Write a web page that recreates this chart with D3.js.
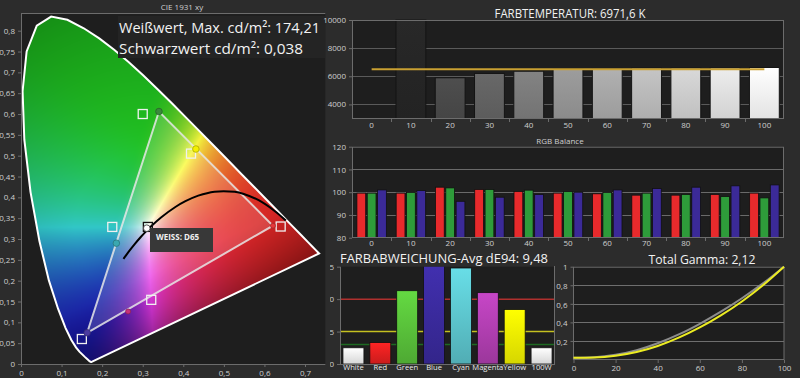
<!DOCTYPE html>
<html>
<head>
<meta charset="utf-8">
<script src="https://cdn.jsdelivr.net/npm/d3@7"></script>
<style>
  html, body { margin: 0; padding: 0; background: #2c2c2c; }
  svg { display: block; font-family: "Open Sans", "Noto Sans", sans-serif; }
</style>
</head>
<body>
<div id="chart"></div>
<script>
// ---------- data ----------
// CIE 1931 spectral locus (x, y)
var locusX = [0.1741, 0.1738, 0.1733, 0.1726, 0.1714, 0.1689, 0.1644, 0.1566, 0.1440, 0.1355, 0.1241, 0.1096, 0.0913, 0.0687, 0.0454, 0.0235, 0.0082, 0.0039, 0.0139, 0.0389, 0.0743, 0.1142, 0.1547, 0.1929, 0.2296, 0.2658, 0.3016, 0.3373, 0.3731, 0.4087, 0.4441, 0.4788, 0.5125, 0.5448, 0.5752, 0.6029, 0.6270, 0.6658, 0.6915, 0.7079, 0.7190, 0.7260, 0.7334, 0.7347];
var locusY = [0.0050, 0.0049, 0.0048, 0.0048, 0.0051, 0.0069, 0.0109, 0.0177, 0.0297, 0.0399, 0.0578, 0.0868, 0.1327, 0.2007, 0.2950, 0.4127, 0.5384, 0.6548, 0.7502, 0.8120, 0.8338, 0.8262, 0.8059, 0.7816, 0.7543, 0.7243, 0.6923, 0.6589, 0.6245, 0.5896, 0.5547, 0.5202, 0.4866, 0.4544, 0.4242, 0.3965, 0.3725, 0.3340, 0.3083, 0.2920, 0.2809, 0.2740, 0.2666, 0.2653];

// Planckian locus (black body curve)
var planckX = [0.2525, 0.2565, 0.2637, 0.2807, 0.2952, 0.3064, 0.3221, 0.3451, 0.3805, 0.4053, 0.4369, 0.4770, 0.5267, 0.5491, 0.5857, 0.6251, 0.6528];
var planckY = [0.2524, 0.2577, 0.2674, 0.2884, 0.3048, 0.3166, 0.3318, 0.3516, 0.3768, 0.3907, 0.4041, 0.4137, 0.4133, 0.4082, 0.3931, 0.3674, 0.3444];

// gamut points: Red, Green, Blue, Cyan, Magenta, Yellow, White
var gamutNames = ["R", "G", "B", "C", "M", "Y", "W"];
var targetX = [0.640, 0.300, 0.150, 0.225, 0.321, 0.419, 0.3127];
var targetY = [0.330, 0.600, 0.060, 0.329, 0.154, 0.505, 0.329];
var measX = [0.621, 0.340, 0.163, 0.235, 0.264, 0.431, 0.310];
var measY = [0.332, 0.606, 0.075, 0.290, 0.126, 0.516, 0.326];

var cieTicksX = [0, 0.1, 0.2, 0.3, 0.4, 0.5, 0.6, 0.7];
var cieTicksY = [0, 0.05, 0.1, 0.15, 0.2, 0.25, 0.3, 0.35, 0.4, 0.45, 0.5, 0.55, 0.6, 0.65, 0.7, 0.75, 0.8];

// colour temperature
var tempCats = ["0", "10", "20", "30", "40", "50", "60", "70", "80", "90", "100"];
var tempValues = [0, 10000, 5895, 6200, 6360, 6550, 6560, 6580, 6580, 6590, 6625];
var tempTarget = 6500;
var tempTicks = [4000, 6000, 8000, 10000];

// RGB balance
var rgbCats = ["0", "10", "20", "30", "40", "50", "60", "70", "80", "90", "100"];
var rgbRed = [99.6, 99.6, 102.2, 101.2, 100.3, 99.6, 99.3, 98.7, 98.7, 99.0, 99.6];
var rgbGreen = [99.6, 99.9, 101.9, 101.2, 100.9, 100.3, 99.9, 99.6, 99.0, 98.1, 97.5];
var rgbBlue = [101.0, 100.7, 96.0, 97.8, 99.0, 100.0, 101.0, 101.6, 102.2, 102.8, 103.2];
var rgbTicks = [80, 90, 100, 110, 120];

// dE94 colour deviation
var deCats = ["White", "Red", "Green", "Blue", "Cyan", "Magenta", "Yellow", "100W"];
var deValues = [2.5, 3.3, 11.3, 16.0, 14.8, 11.0, 8.4, 2.5];
var deLimits = [10, 5, 3];
var deTicks = [0, 5, 10, 15];

// gamma
var gammaX = [0, 10, 20, 30, 40, 50, 60, 70, 80, 90, 100];
var gammaTarget = [0.018, 0.024, 0.05, 0.1, 0.175, 0.27, 0.385, 0.515, 0.66, 0.82, 1.0];
var gammaMeasured = [0.018, 0.021, 0.04, 0.08, 0.145, 0.235, 0.345, 0.475, 0.625, 0.8, 1.0];
var gammaTicksY = [0.2, 0.4, 0.6, 0.8, 1];
var gammaTicksX = [0, 20, 40, 60, 80, 100];

// ---------- drawing ----------
var W = 800, H = 378;
var bg = "#2c2c2c", plotBg = "#1e1e1e", lineCol = "#6c6c6c", tickText = "#cfcfcf";

var svg = d3.select("#chart").append("svg")
    .attr("width", W).attr("height", H);

svg.append("rect").attr("width", W).attr("height", H).attr("fill", bg);

var defs = svg.append("defs");

function comma(d) {
    return d === 0 ? "0" : String(+d.toFixed(2)).replace(".", ",");
}

function styleAxis(g) {
    g.selectAll(".domain").attr("stroke", lineCol);
    g.selectAll(".tick line").attr("stroke", lineCol);
    g.selectAll(".tick text").attr("fill", tickText).attr("font-size", "8px")
        .attr("font-family", "'Open Sans', sans-serif");
}

function vGrad(id, top, bottom) {
    var gr = defs.append("linearGradient").attr("id", id)
        .attr("x1", 0).attr("y1", 0).attr("x2", 0).attr("y2", 1);
    gr.append("stop").attr("offset", "0%").attr("stop-color", top);
    gr.append("stop").attr("offset", "100%").attr("stop-color", bottom);
    return "url(#" + id + ")";
}

// ===== CIE 1931 xy =====
var cx = d3.scaleLinear().domain([0, 0.75]).range([21, 325.3]);
var cy = d3.scaleLinear().domain([0, 0.8]).range([364, 30.7]);
var cieTop = 13;

var cie = svg.append("g");
cie.append("rect").attr("x", cx(0)).attr("y", cieTop)
    .attr("width", cx(0.75) - cx(0)).attr("height", cy(0) - cieTop)
    .attr("fill", plotBg);

var locus = locusX.map(function(x, i) { return [x, locusY[i]]; });

// colour fill of the horseshoe
(function() {
    var x0 = Math.round(cx(0)), x1 = Math.round(cx(0.75));
    var y0 = cieTop, y1 = Math.round(cy(0));
    var w = x1 - x0, h = y1 - y0;
    var canvas = document.createElement("canvas");
    canvas.width = w; canvas.height = h;
    var ctx = canvas.getContext("2d");
    var img = ctx.createImageData(w, h);
    function enc(v) {
        v = Math.max(0, Math.min(1, v));
        return 255 * (v <= 0.0031308 ? 12.92 * v : 1.055 * Math.pow(v, 1 / 2.4) - 0.055);
    }
    // purple line end points
    var p0 = locus[0], p1 = locus[locus.length - 1];
    var pl = Math.hypot(p1[0] - p0[0], p1[1] - p0[1]);
    for (var j = 0; j < h; j++) {
        for (var i = 0; i < w; i++) {
            var x = cx.invert(x0 + i + 0.5), y = cy.invert(y0 + j + 0.5);
            var k = (j * w + i) * 4;
            if (y <= 0.001 || !d3.polygonContains(locus, [x, y])) { img.data[k + 3] = 0; continue; }
            var X = x / y, Y = 1, Z = (1 - x - y) / y;
            var r = 3.2406 * X - 1.5372 * Y - 0.4986 * Z;
            var g = -0.9689 * X + 1.8758 * Y + 0.0415 * Z;
            var b = 0.0557 * X - 0.2040 * Y + 1.0570 * Z;
            r = Math.max(0, r); g = Math.max(0, g); b = Math.max(0, b);
            var m = Math.max(r, g, b);
            r = Math.pow(r / m, 2.2); g = Math.pow(g / m, 2.2); b = Math.pow(b / m, 2.2);
            var lum = 0.2126 * r + 0.7152 * g + 0.0722 * b;
            var dw = Math.hypot(x - 0.3127, y - 0.329);
            var f1 = Math.max(0.35, 1 - 1.3 * Math.max(0, dw - 0.18));
            var f2 = Math.pow(lum, 0.12);
            var pd = Math.abs((p1[1] - p0[1]) * x - (p1[0] - p0[0]) * y + p1[0] * p0[1] - p1[1] * p0[0]) / pl;
            var f3 = 0.45 + 0.55 * Math.min(1, pd / 0.13);
            var f4 = 0.6 + 0.4 * r;
            var f = f1 * f2 * f3 * f4;
            r *= f; g *= f; b *= f;
            var avg = (r + g + b) / 3;
            r = r * 0.92 + avg * 0.08; g = g * 0.92 + avg * 0.08; b = b * 0.92 + avg * 0.08;
            img.data[k] = enc(r); img.data[k + 1] = enc(g); img.data[k + 2] = enc(b);
            img.data[k + 3] = 255;
        }
    }
    ctx.putImageData(img, 0, 0);
    cie.append("image").attr("x", x0).attr("y", y0).attr("width", w).attr("height", h)
        .attr("href", canvas.toDataURL());
})();

var gx = function(d) { return cx(d[0]); }, gy = function(d) { return cy(d[1]); };
cie.append("path").datum(locus)
    .attr("d", d3.line().x(gx).y(gy).curve(d3.curveLinearClosed))
    .attr("fill", "none").attr("stroke", "#ffffff").attr("stroke-width", 2);

var mpt = function(n) { var i = gamutNames.indexOf(n); return [measX[i], measY[i]]; };
var tpt = function(n) { var i = gamutNames.indexOf(n); return [targetX[i], targetY[i]]; };

// measured gamut triangle
var tri = [mpt("B"), mpt("G"), mpt("R")];
cie.append("path").datum(tri)
    .attr("d", d3.line().x(gx).y(gy).curve(d3.curveLinearClosed))
    .attr("fill", "#ffffff").attr("fill-opacity", 0.15)
    .attr("stroke", "#e6e6e6").attr("stroke-opacity", 0.85).attr("stroke-width", 2);

// black body curve
cie.append("path").datum(planckX.map(function(x, i) { return [x, planckY[i]]; }))
    .attr("d", d3.line().x(gx).y(gy).curve(d3.curveCatmullRom))
    .attr("fill", "none").attr("stroke", "#000000").attr("stroke-width", 2);

// target squares
cie.selectAll("rect.target").data(gamutNames).enter().append("rect")
    .attr("class", "target")
    .attr("x", function(n) { return cx(tpt(n)[0]) - 4.5; })
    .attr("y", function(n) { return cy(tpt(n)[1]) - 4.5; })
    .attr("width", 9).attr("height", 9)
    .attr("fill", "none")
    .attr("stroke", function(n) { return n === "W" ? "#111" : "#f0f0f0"; })
    .attr("stroke-width", 1.3);

// measured dots
var dotCol = { R: "#e8383a", G: "#3a8a3c", B: "#4a3aa0", C: "#3aa8b0", M: "#c8307a", Y: "#f4f000", W: "#ffffff" };
cie.selectAll("circle.meas").data(gamutNames).enter().append("circle")
    .attr("class", "meas")
    .attr("cx", function(n) { return cx(mpt(n)[0]); })
    .attr("cy", function(n) { return cy(mpt(n)[1]); })
    .attr("r", function(n) { return n === "R" || n === "M" ? 2.5 : 3.3; })
    .attr("fill", function(n) { return dotCol[n]; })
    .attr("stroke", function(n) { return n === "W" ? "#333" : d3.color(dotCol[n]).darker(1); })
    .attr("stroke-width", 0.8);

// axes
var cax = cie.append("g").attr("transform", "translate(0," + cy(0) + ")")
    .call(d3.axisBottom(cx).tickValues(cieTicksX).tickFormat(comma).tickSize(3).tickSizeOuter(0));
styleAxis(cax);
cax.selectAll(".domain").attr("d", "M" + cx(0) + ",0.5H" + cx(0.75));
var cay = cie.append("g").attr("transform", "translate(" + cx(0) + ",0)")
    .call(d3.axisLeft(cy).tickValues(cieTicksY).tickFormat(comma).tickSize(3).tickSizeOuter(0));
styleAxis(cay);
cay.selectAll(".domain").attr("d", "M0.5," + cieTop + "V" + cy(0));
cie.append("line").attr("x1", cx(0)).attr("x2", cx(0.75)).attr("y1", cieTop + 0.5).attr("y2", cieTop + 0.5)
    .attr("stroke", lineCol);

cie.append("text").attr("x", 182).attr("y", 10).attr("text-anchor", "middle")
    .attr("fill", tickText).attr("font-size", "8px").text("CIE 1931 xy");

// info box
cie.append("rect").attr("x", 118).attr("y", 16).attr("width", 207).attr("height", 42).attr("fill", "#242424");
cie.append("text").attr("x", 119).attr("y", 33).attr("fill", "#f2f2f2").attr("font-size", "14.5px")
    .attr("textLength", 201).attr("lengthAdjust", "spacingAndGlyphs")
    .text("Weißwert, Max. cd/m²: 174,21");
cie.append("text").attr("x", 119).attr("y", 54).attr("fill", "#f2f2f2").attr("font-size", "14.5px")
    .attr("textLength", 184).attr("lengthAdjust", "spacingAndGlyphs")
    .text("Schwarzwert cd/m²: 0,038");

// white point label
cie.append("rect").attr("x", 150).attr("y", 228).attr("width", 63).attr("height", 24).attr("fill", "#383838");
cie.append("text").attr("x", 156).attr("y", 240).attr("fill", "#f0f0f0").attr("font-size", "8px")
    .attr("font-weight", "bold").text("WEISS: D65");

// ===== panel helpers =====
function plotFrame(g, x0, x1, y0, y1) {
    g.append("rect").attr("x", x0).attr("y", y0).attr("width", x1 - x0).attr("height", y1 - y0)
        .attr("fill", plotBg);
}
function frameLines(g, x0, x1, y0, y1) {
    g.append("rect").attr("x", x0 + 0.5).attr("y", y0 + 0.5).attr("width", x1 - x0 - 1).attr("height", y1 - y0 - 1)
        .attr("fill", "none").attr("stroke", lineCol);
}
function titleWithGap(g, cxp, y, gx0, gx1, txt, size, len) {
    g.append("rect").attr("x", gx0).attr("y", y - 13).attr("width", gx1 - gx0).attr("height", 15).attr("fill", bg);
    g.append("text").attr("x", cxp).attr("y", y).attr("text-anchor", "middle")
        .attr("fill", "#f2f2f2").attr("font-size", size)
        .attr("textLength", len).attr("lengthAdjust", "spacingAndGlyphs").text(txt);
}

// ===== Colour temperature =====
var tp = svg.append("g");
var tx = d3.scaleBand().domain(tempCats).range([352, 784]).paddingInner(0.24).paddingOuter(0.12);
var ty = d3.scaleLinear().domain([3000, 10000]).range([118.5, 20]);
plotFrame(tp, 352, 784, 20, 118.5);
tp.selectAll("line.grid").data(tempTicks).enter().append("line")
    .attr("x1", 352).attr("x2", 784)
    .attr("y1", function(d) { return Math.round(ty(d)) + 0.5; })
    .attr("y2", function(d) { return Math.round(ty(d)) + 0.5; })
    .attr("stroke", "#5a5a5a");
var greyScale = d3.scaleLinear().domain([10, 20, 50, 100]).range(["#262626", "#4a4a4a", "#959595", "#f4f4f4"]);
tp.selectAll("rect.bar").data(tempCats.filter(function(c, i) { return tempValues[i] > 0; }))
    .enter().append("rect")
    .attr("x", function(c) { return tx(c); })
    .attr("y", function(c) { return ty(tempValues[tempCats.indexOf(c)]); })
    .attr("width", tx.bandwidth())
    .attr("height", function(c) { return ty(3000) - ty(tempValues[tempCats.indexOf(c)]); })
    .attr("fill", function(c, i) {
        var col = d3.color(greyScale(+c));
        return vGrad("tg" + i, col.brighter(0.15), col.darker(0.2));
    })
    .attr("stroke", "#141414").attr("stroke-width", 1);
tp.append("line")
    .attr("x1", tx("0") + tx.bandwidth() / 2).attr("x2", tx("100") + tx.bandwidth() / 2)
    .attr("y1", ty(tempTarget)).attr("y2", ty(tempTarget))
    .attr("stroke", "#c9a032").attr("stroke-width", 2.2);
frameLines(tp, 352, 784, 20, 119);
var tay = tp.append("g").attr("transform", "translate(352,0)")
    .call(d3.axisLeft(ty).tickValues(tempTicks).tickFormat(d3.format("d")).tickSize(3).tickSizeOuter(0));
styleAxis(tay); tay.select(".domain").remove();
var tax = tp.append("g").attr("transform", "translate(0,119)")
    .call(d3.axisBottom(tx).tickSize(0).tickPadding(3));
styleAxis(tax); tax.select(".domain").remove();
tp.selectAll("line.sep").data(tempCats.slice(1)).enter().append("line")
    .attr("x1", function(c) { return Math.round(tx(c) - tx.step() * 0.12) + 0.5; })
    .attr("x2", function(c) { return Math.round(tx(c) - tx.step() * 0.12) + 0.5; })
    .attr("y1", 118).attr("y2", 122).attr("stroke", lineCol);
titleWithGap(tp, 570, 18, 493, 680, "FARBTEMPERATUR: 6971,6 K", "12.5px", 151);

// ===== RGB balance =====
var rp = svg.append("g");
var rx = d3.scaleBand().domain(rgbCats).range([352, 784]).paddingInner(0.25).paddingOuter(0.125);
var rsub = d3.scaleBand().domain(["r", "g", "b"]).range([0, rx.bandwidth()]).paddingInner(0.15);
var ry = d3.scaleLinear().domain([80, 120]).range([237.7, 146.7]);
plotFrame(rp, 352, 784, 146.7, 237.7);
rp.selectAll("line.grid").data(rgbTicks.slice(1, 4)).enter().append("line")
    .attr("x1", 352).attr("x2", 784)
    .attr("y1", function(d) { return Math.round(ry(d)) + 0.5; })
    .attr("y2", function(d) { return Math.round(ry(d)) + 0.5; })
    .attr("stroke", "#6a6a6a");
var rgbSeries = [["r", rgbRed, "#e82a2c"], ["g", rgbGreen, "#2e9c3a"], ["b", rgbBlue, "#3b2a98"]];
rgbSeries.forEach(function(s) {
    rp.selectAll("rect.b" + s[0]).data(rgbCats).enter().append("rect")
        .attr("x", function(c) { return rx(c) + rsub(s[0]); })
        .attr("y", function(c, i) { return ry(s[1][i]); })
        .attr("width", rsub.bandwidth())
        .attr("height", function(c, i) { return ry(80) - ry(s[1][i]); })
        .attr("fill", s[2]).attr("stroke", "#111").attr("stroke-width", 0.8);
});
frameLines(rp, 352, 784, 146.7, 238);
var ray = rp.append("g").attr("transform", "translate(352,0)")
    .call(d3.axisLeft(ry).tickValues(rgbTicks).tickSize(3).tickSizeOuter(0));
styleAxis(ray); ray.select(".domain").remove();
var rax = rp.append("g").attr("transform", "translate(0,238)")
    .call(d3.axisBottom(rx).tickSize(0).tickPadding(2));
styleAxis(rax); rax.select(".domain").remove();
rp.selectAll("line.sep").data(rgbCats.slice(1)).enter().append("line")
    .attr("x1", function(c) { return Math.round(rx(c) - rx.step() * 0.125) + 0.5; })
    .attr("x2", function(c) { return Math.round(rx(c) - rx.step() * 0.125) + 0.5; })
    .attr("y1", 237).attr("y2", 241).attr("stroke", lineCol);
rp.append("text").attr("x", 560).attr("y", 143.5).attr("text-anchor", "middle")
    .attr("fill", tickText).attr("font-size", "8px").text("RGB Balance");

// ===== dE94 =====
defs.append("clipPath").attr("id", "declip").append("rect")
    .attr("x", 330).attr("y", 240).attr("width", 230).attr("height", 138);
defs.append("clipPath").attr("id", "deplot").append("rect")
    .attr("x", 340).attr("y", 266.7).attr("width", 215).attr("height", 98);
var dp = svg.append("g").attr("clip-path", "url(#declip)");
var dx = d3.scaleBand().domain(deCats).range([340, 555]).paddingInner(0.22).paddingOuter(0.11);
var dy = d3.scaleLinear().domain([0, 15]).range([364, 266.7]);
plotFrame(dp, 340, 555, 266.7, 364);
var limitCols = ["#b0302e", "#c4c020", "#1e6a22"];
dp.selectAll("line.lim").data(deLimits).enter().append("line")
    .attr("x1", 340).attr("x2", 555)
    .attr("y1", function(d) { return dy(d); }).attr("y2", function(d) { return dy(d); })
    .attr("stroke", function(d, i) { return limitCols[i]; }).attr("stroke-width", 1.5);
var deCols = ["#f2f2f2", "#e42020", "#58c03a", "#3a2a9c", "#5cc4cc", "#b03eb0", "#f2f200", "#f2f2f2"];
dp.append("g").attr("clip-path", "url(#deplot)")
    .selectAll("rect").data(deCats).enter().append("rect")
    .attr("x", function(c) { return dx(c); })
    .attr("y", function(c, i) { return dy(deValues[i]); })
    .attr("width", dx.bandwidth())
    .attr("height", function(c, i) { return dy(0) - dy(deValues[i]); })
    .attr("fill", function(c, i) {
        var col = d3.color(deCols[i]);
        return vGrad("dg" + i, col.brighter(0.35), col.darker(0.35));
    })
    .attr("stroke", "#111").attr("stroke-width", 0.8);
dp.append("line").attr("x1", 340).attr("x2", 555).attr("y1", 364.5).attr("y2", 364.5).attr("stroke", lineCol);
dp.append("line").attr("x1", 340.5).attr("x2", 340.5).attr("y1", 266.7).attr("y2", 364).attr("stroke", lineCol);
dp.append("line").attr("x1", 554.5).attr("x2", 554.5).attr("y1", 266).attr("y2", 364).attr("stroke", lineCol);
var day = dp.append("g").attr("transform", "translate(340,0)")
    .call(d3.axisLeft(dy).tickValues(deTicks).tickSize(3).tickSizeOuter(0));
styleAxis(day); day.select(".domain").remove();
var dax = dp.append("g").attr("transform", "translate(0,364)")
    .call(d3.axisBottom(dx).tickSize(0).tickPadding(1));
styleAxis(dax); dax.select(".domain").remove();
dax.selectAll(".tick text").attr("fill", "#ececec").attr("font-size", "7.6px");
svg.append("text").attr("x", 444).attr("y", 263).attr("text-anchor", "middle")
    .attr("fill", "#f2f2f2").attr("font-size", "13px")
    .attr("textLength", 208).attr("lengthAdjust", "spacingAndGlyphs")
    .text("FARBABWEICHUNG-Avg dE94: 9,48");

// ===== Gamma =====
var gp = svg.append("g");
var gxs = d3.scaleLinear().domain([0, 100]).range([573.5, 784]);
var gys = d3.scaleLinear().domain([0, 1]).range([359.5, 266.7]);
plotFrame(gp, 573.5, 784, 266.7, 359.5);
gp.selectAll("line.grid").data(gammaTicksY.slice(0, 4)).enter().append("line")
    .attr("x1", 573.5).attr("x2", 784)
    .attr("y1", function(d) { return Math.round(gys(d)) + 0.5; })
    .attr("y2", function(d) { return Math.round(gys(d)) + 0.5; })
    .attr("stroke", "#6e6e6e");
frameLines(gp, 573, 784.5, 266.7, 360);
var gline = function(vals) {
    return d3.line().x(function(d, i) { return gxs(gammaX[i]); }).y(function(d) { return gys(d); })
        .curve(d3.curveMonotoneX)(vals);
};
gp.append("path").attr("d", gline(gammaTarget)).attr("fill", "none")
    .attr("stroke", "#8c8c8c").attr("stroke-width", 2);
gp.append("path").attr("d", gline(gammaMeasured)).attr("fill", "none")
    .attr("stroke", "#ecec22").attr("stroke-width", 2);
var gay = gp.append("g").attr("transform", "translate(573.5,0)")
    .call(d3.axisLeft(gys).tickValues(gammaTicksY).tickFormat(comma).tickSize(3).tickSizeOuter(0));
styleAxis(gay); gay.select(".domain").remove();
gay.selectAll(".tick text").attr("dy", "0.4em");
var gax = gp.append("g").attr("transform", "translate(0,360)")
    .call(d3.axisBottom(gxs).tickValues(gammaTicksX).tickSize(3).tickSizeOuter(0).tickPadding(2));
styleAxis(gax); gax.select(".domain").remove();
titleWithGap(gp, 702, 264, 645, 768, "Total Gamma: 2,12", "13.5px", 107);
</script>
</body>
</html>
